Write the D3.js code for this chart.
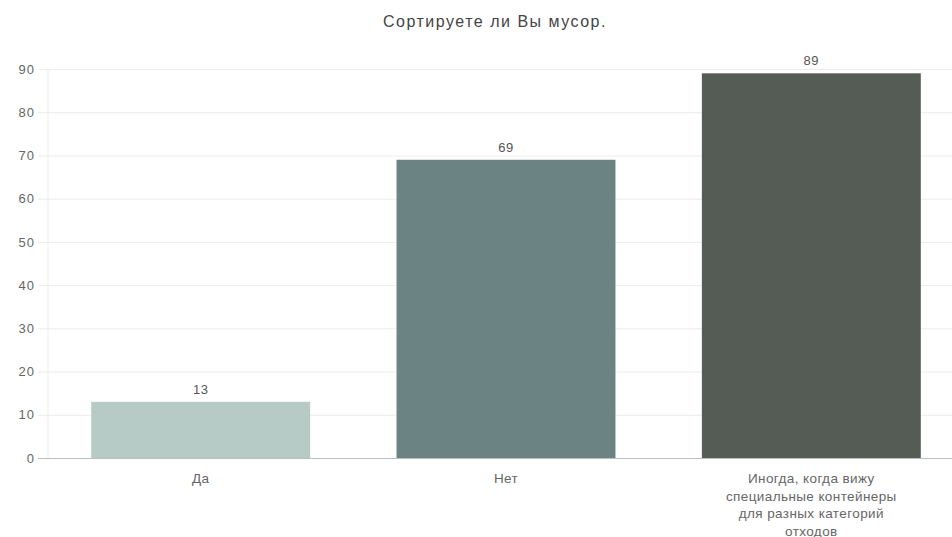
<!DOCTYPE html>
<html>
<head>
<meta charset="utf-8">
<script src="https://cdn.jsdelivr.net/npm/d3@7"></script>
<style>
  html, body { margin: 0; padding: 0; background: #fff; }
  svg { display: block; font-family: "Liberation Sans", Arial, sans-serif; }
</style>
</head>
<body>
<svg id="chart" width="952" height="537"></svg>
<script>
// Survey answers and counts
const categories = [
  "Да",
  "Нет",
  "Иногда, когда вижу специальные контейнеры для разных категорий отходов"
];
const values = [13, 69, 89];
const barColors = ["#b6cac6", "#6b8382", "#545c55"];
const yTicks = [0, 10, 20, 30, 40, 50, 60, 70, 80, 90];
const title = "Сортируете ли Вы мусор.";

const svg = d3.select("#chart");
const plotLeft = 48, plotRight = 964, plotTop = 69, plotBottom = 458;

const x = d3.scaleBand()
  .domain(categories)
  .range([plotLeft, plotRight])
  .paddingInner(0.283)
  .paddingOuter(0.1415);

const y = d3.scaleLinear().domain([0, 90]).range([plotBottom, plotTop]);

// Title
svg.append("text")
  .attr("x", 495)
  .attr("y", 27)
  .attr("text-anchor", "middle")
  .attr("font-size", 16)
  .attr("letter-spacing", 1.5)
  .attr("fill", "#444")
  .text(title);

// Horizontal grid with tick labels
const yAxis = d3.axisLeft(y)
  .tickValues(yTicks)
  .tickSize(-(952 - plotLeft))
  .tickPadding(13);
const gy = svg.append("g")
  .attr("transform", `translate(${plotLeft},0)`)
  .call(yAxis);
gy.select(".domain").remove();
gy.selectAll(".tick line")
  .attr("x1", -10)
  .attr("stroke", d => d === 0 ? "#bdbdbd" : "#ececec");
gy.selectAll(".tick text")
  .attr("font-size", 13)
  .attr("letter-spacing", 1)
  .attr("fill", "#666")
  .attr("x", -13)
  .attr("font-family", "Liberation Sans, Arial, sans-serif");

// Vertical axis line
svg.append("line")
  .attr("x1", plotLeft).attr("x2", plotLeft)
  .attr("y1", plotTop).attr("y2", plotBottom)
  .attr("stroke", "#ececec");

// Bars
svg.append("g").selectAll("rect")
  .data(values)
  .join("rect")
  .attr("x", (d, i) => x(categories[i]))
  .attr("y", d => y(d))
  .attr("width", x.bandwidth())
  .attr("height", d => y(0) - y(d))
  .attr("fill", (d, i) => barColors[i]);

// Value labels
svg.append("g").selectAll("text")
  .data(values)
  .join("text")
  .attr("x", (d, i) => x(categories[i]) + x.bandwidth() / 2)
  .attr("y", d => y(d) - 8)
  .attr("text-anchor", "middle")
  .attr("font-size", 13)
  .attr("letter-spacing", 0.5)
  .attr("fill", "#555")
  .text(d => d);

// Category labels, wrapped to a fixed width
function wrapLines(text, maxWidth, fontSize) {
  const words = text.split(" ");
  const lines = [];
  let line = "";
  const meas = svg.append("text").attr("font-size", fontSize).attr("visibility", "hidden");
  words.forEach(w => {
    const test = line ? line + " " + w : w;
    meas.text(test);
    if (meas.node().getComputedTextLength() > maxWidth && line) {
      lines.push(line);
      line = w;
    } else {
      line = test;
    }
  });
  if (line) lines.push(line);
  meas.remove();
  return lines;
}

const xl = svg.append("g");
categories.forEach(c => {
  const lines = wrapLines(c, 175, 13.5);
  const t = xl.append("text")
    .attr("text-anchor", "middle")
    .attr("font-size", 13.5)
    .attr("letter-spacing", 0.4)
    .attr("fill", "#666");
  lines.forEach((ln, j) => {
    t.append("tspan")
      .attr("x", x(c) + x.bandwidth() / 2)
      .attr("y", 483 + j * 17.5)
      .text(ln);
  });
});
</script>
</body>
</html>
